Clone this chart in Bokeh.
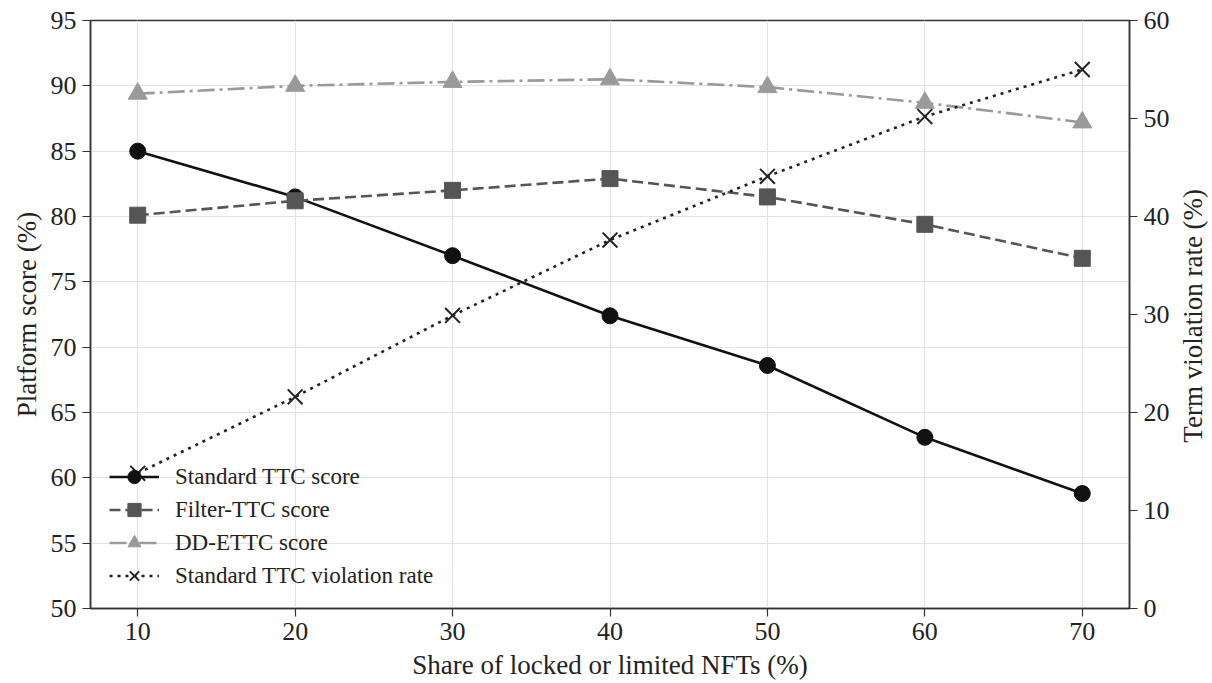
import math
from bokeh.plotting import figure
from bokeh.layouts import row
from bokeh.models import LinearAxis, Range1d, FixedTicker, Legend, Label
from bokeh.embed import file_html
from bokeh.resources import INLINE

share = [10, 20, 30, 40, 50, 60, 70]
standard_score = [85.0, 81.5, 77.0, 72.4, 68.6, 63.1, 58.8]
filter_score = [80.1, 81.2, 82.0, 82.9, 81.5, 79.4, 76.8]
ddettc_score = [89.4, 90.0, 90.3, 90.5, 89.9, 88.7, 87.2]
violation_rate = [13.8, 21.6, 29.9, 37.6, 44.1, 50.2, 55.0]

left_ticks = [50, 55, 60, 65, 70, 75, 80, 85, 90, 95]
right_ticks = [0, 10, 20, 30, 40, 50, 60]
x_ticks = [10, 20, 30, 40, 50, 60, 70]

FONT = "Liberation Serif"
H = 683
W_MAIN = 1172
W_SIDE = 40

p = figure(width=W_MAIN, height=H, output_backend="svg", toolbar_location=None,
           x_range=Range1d(7, 73), y_range=Range1d(50, 95),
           min_border_left=90, min_border_right=43, min_border_top=20, min_border_bottom=75)
p.extra_y_ranges = {"right": Range1d(0, 60)}

p.outline_line_color = "#333333"
p.outline_line_width = 1.5
p.background_fill_color = "white"
p.border_fill_color = "white"

p.xgrid.grid_line_color = "#e3e3e3"
p.ygrid.grid_line_color = "#e3e3e3"
p.xgrid.grid_line_width = 1.2
p.ygrid.grid_line_width = 1.2

def style_axis(ax):
    ax.axis_line_color = "#333333"
    ax.axis_line_width = 1.5
    ax.major_tick_line_color = "#333333"
    ax.major_tick_line_width = 1.2
    ax.major_tick_out = 8
    ax.major_tick_in = 0
    ax.minor_tick_line_color = None
    ax.major_label_text_font = FONT
    ax.major_label_text_font_size = "26px"
    ax.major_label_text_color = "#222222"
    ax.axis_label_text_font = FONT
    ax.axis_label_text_font_size = "27px"
    ax.axis_label_text_font_style = "normal"
    ax.axis_label_text_color = "#222222"
    ax.major_label_standoff = 6

p.xaxis.ticker = FixedTicker(ticks=x_ticks)
p.yaxis.ticker = FixedTicker(ticks=left_ticks)
p.xaxis.axis_label = "Share of locked or limited NFTs (%)"
p.yaxis.axis_label = "Platform score (%)"
style_axis(p.xaxis[0])
style_axis(p.yaxis[0])
p.xaxis.axis_label_standoff = 7
p.yaxis.axis_label_standoff = 6

raxis = LinearAxis(y_range_name="right", ticker=FixedTicker(ticks=right_ticks))
style_axis(raxis)
p.add_layout(raxis, "right")

lw = 2.6
r1 = p.line(share, standard_score, line_color="#111111", line_width=lw)
s1 = p.scatter(share, standard_score, marker="circle", size=16, fill_color="#111111", line_color="#111111")
r2 = p.line(share, filter_score, line_color="#555555", line_width=lw, line_dash="11 5")
s2 = p.scatter(share, filter_score, marker="square", size=16, fill_color="#555555", line_color="#555555")
r3 = p.line(share, ddettc_score, line_color="#9a9a9a", line_width=lw, line_dash="17 5 3 5")
s3 = p.scatter(share, ddettc_score, marker="triangle", size=19, fill_color="#9a9a9a", line_color="#9a9a9a")
r4 = p.line(share, violation_rate, line_color="#222222", line_width=lw, line_dash="3 5", y_range_name="right")
s4 = p.scatter(share, violation_rate, marker="x", size=21, line_color="#222222", line_width=2, y_range_name="right")

legend = Legend(items=[
    ("Standard TTC score", [r1, s1]),
    ("Filter-TTC score", [r2, s2]),
    ("DD-ETTC score", [r3, s3]),
    ("Standard TTC violation rate", [r4, s4]),
], location=(19, 16))
legend.border_line_color = None
legend.background_fill_alpha = 0
legend.label_text_font = FONT
legend.label_text_font_size = "23px"
legend.label_text_color = "#222222"
legend.glyph_width = 50
legend.glyph_height = 33
legend.label_height = 33
legend.spacing = 0
legend.padding = 2
legend.margin = 0
legend.label_standoff = 16
p.add_layout(legend, "center")

# narrow side panel holding the right-hand axis title (reads bottom-to-top)
side = figure(width=W_SIDE, height=H, output_backend="svg", toolbar_location=None,
              x_range=Range1d(0, W_SIDE), y_range=Range1d(0, H),
              x_axis_type=None, y_axis_type=None,
              min_border_left=0, min_border_right=0, min_border_top=0, min_border_bottom=0)
side.outline_line_color = None
side.grid.grid_line_color = None
side.background_fill_color = "white"
side.border_fill_color = "white"
side.add_layout(Label(x=20, y=340, text="Term violation rate (%)", angle=math.pi / 2,
                      text_align="center", text_baseline="middle",
                      text_font=FONT, text_font_size="27px", text_color="#222222"))

layout = row(p, side, spacing=0)
open("out.html", "w").write(file_html(layout, INLINE))
